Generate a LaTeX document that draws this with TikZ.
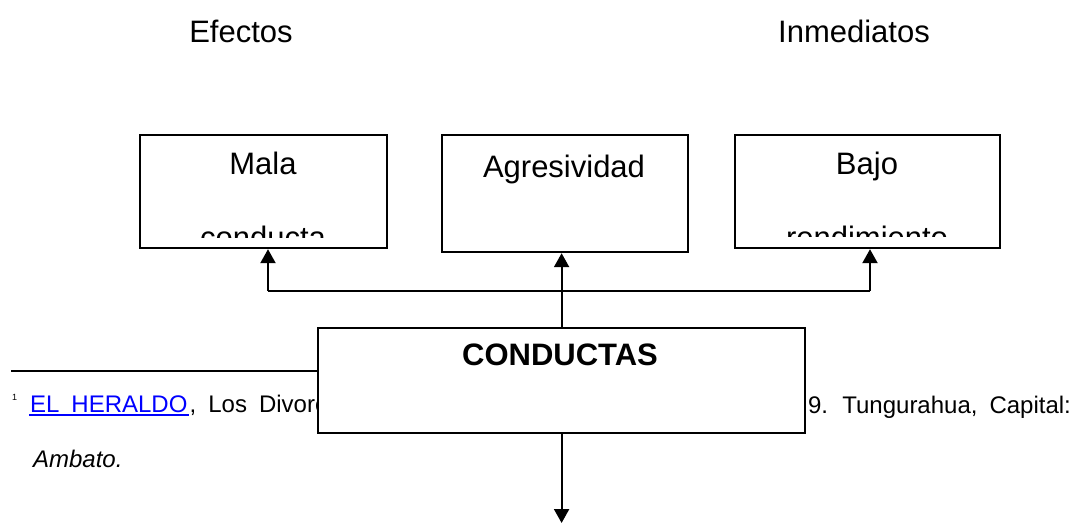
\documentclass[tikz,border=0pt]{standalone}
\usepackage{fontspec}
\setmainfont{Liberation Sans}
\usetikzlibrary{arrows.meta}
\newcommand\espacionota{\spaceskip 12pt\relax}
\begin{document}
\begin{tikzpicture}[x=1pt,y=-1pt,line width=2.2pt,
	caja/.style={draw,fill=white,inner sep=0pt,anchor=north west},
	texto/.style={font=\fontsize{31}{37}\selectfont,inner sep=0pt,anchor=base},
	nota/.style={font=\fontsize{24}{29}\selectfont\espacionota,inner sep=0pt,anchor=base west},
	flecha/.style={-{Triangle[length=14pt,width=15pt]}}]
				\useasboundingbox (0,0) rectangle (1077,523);
				% titulos
				\node[texto] (efectos) at (241,42) {Efectos};
				\node[texto] (inmediatos) at (854,42) {Inmediatos};
				
				% nota al pie
				\draw[line width=2.6pt] (11,371) -- (330,371);
				\node[font=\fontsize{9}{11}\selectfont,inner sep=0pt,anchor=base west] (uno) at (11,400) {1};
				\node[nota,text=blue] (heraldo) at (29,412) {EL HERALDO};
				\draw[blue,line width=2pt] ([yshift=-3pt]heraldo.base west) -- ([yshift=-3pt]heraldo.base east);
				\node[nota] (divorcios) at (heraldo.base east) {, Los Divorcios};
				\node[nota] (tungurahua) at (807,413) {9. Tungurahua, Capital:};
				\node[nota,font=\fontsize{24}{29}\selectfont\itshape] (ambato) at (32,467) {Ambato.};
				
				% efectos
				\node[caja,minimum width=247pt,minimum height=113pt] (mala) at (139,134) {};
				\node[caja,minimum width=246pt,minimum height=117pt] (agresividad) at (441,134) {};
				\node[caja,minimum width=265pt,minimum height=113pt] (bajo) at (734,134) {};
				\begin{scope}
					\clip (139,134) rectangle (386,237);
					\node[texto] (malaA) at (263,174) {Mala};
					\node[texto] (malaB) at (263,248) {conducta};
				\end{scope}
				\node[texto] (agresividadA) at (564,177) {Agresividad};
				\begin{scope}
					\clip (734,134) rectangle (999,236);
					\node[texto] (bajoA) at (867,174) {Bajo};
					\node[texto] (bajoB) at (867,248) {rendimiento};
				\end{scope}
				
				% conductas
				\node[caja,minimum width=487pt,minimum height=105pt] (conductas) at (317,327) {};
				\node[texto,font=\fontsize{31}{37}\selectfont\bfseries] (conductasA) at (560,365) {CONDUCTAS};
				
				% flechas
				\coordinate (busL) at (268,291);
				\coordinate (busR) at (870,291);
				\coordinate (fin) at (561,523);
				\draw (busL) -- (busR);
				\draw[flecha] (busL) -- (busL |- mala.south);
				\draw[flecha] (busR) -- (busR |- bajo.south);
				\draw[flecha] (conductas.north) -- (conductas.north |- agresividad.south);
				\draw[flecha] (conductas.south) -- (conductas.south |- fin);
			\end{tikzpicture}
\end{document}
